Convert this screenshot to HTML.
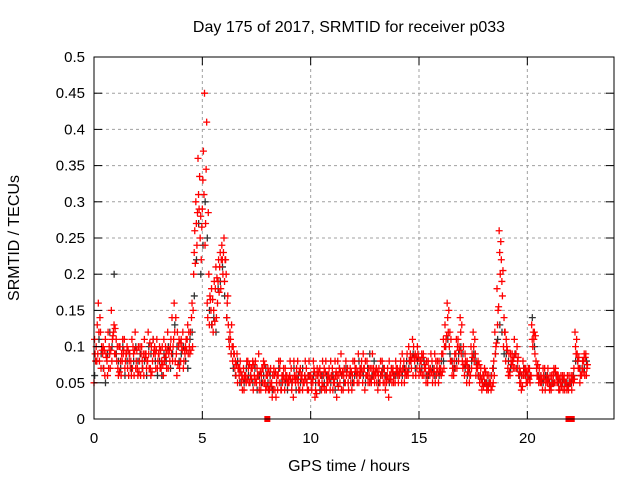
<!DOCTYPE html>
<html><head><meta charset="utf-8"><style>
body{margin:0;background:#fff;}
svg{display:block;font-family:"Liberation Sans",sans-serif;}
</style></head><body>
<svg id="chart" width="640" height="480">
<g id="grid"></g>
<g id="marks"></g>
<g id="axes"></g>
<text x="349" y="32" text-anchor="middle" font-size="16">Day 175 of 2017, SRMTID for receiver p033</text>
<text x="0" y="0" transform="translate(19,238) rotate(-90)" text-anchor="middle" font-size="16">SRMTID / TECUs</text>
<text x="349" y="471" text-anchor="middle" font-size="16">GPS time / hours</text>
</svg>
<script>
const xTicks=[0,5,10,15,20];
const yTicks=[0,0.05,0.1,0.15,0.2,0.25,0.3,0.35,0.4,0.45,0.5];
const yLabels=["0","0.05","0.1","0.15","0.2","0.25","0.3","0.35","0.4","0.45","0.5"];
const startHour=0, stepHour=0.1;
const seriesRed=[.05,.10,.16,.12,.09,.06,.08,.10,.15,.12,
.09,.07,.10,.08,.11,.09,.06,.08,.10,.12,
.07,.08,.10,.06,.09,.12,.07,.08,.10,.11,
.09,.07,.06,.10,.12,.08,.14,.16,.09,.10,
.08,.12,.09,.11,.10,.14,.20,.30,.36,.25,
.29,.45,.41,.20,.15,.12,.18,.16,.21,.24,
.25,.20,.13,.11,.08,.07,.09,.06,.05,.07,
.06,.08,.05,.07,.06,.05,.09,.04,.07,.05,
.06,.04,.05,.07,.03,.06,.08,.05,.04,.06,
.05,.07,.03,.05,.08,.04,.06,.05,.07,.04,
.06,.05,.03,.07,.05,.04,.06,.08,.05,.04,
.07,.05,.03,.06,.09,.04,.05,.07,.06,.04,
.05,.07,.09,.06,.05,.04,.08,.06,.05,.07,
.06,.04,.05,.08,.07,.05,.03,.06,.07,.05,
.07,.06,.05,.08,.07,.06,.09,.11,.08,.07,
.06,.08,.09,.07,.05,.06,.08,.07,.06,.05,
.07,.09,.13,.16,.10,.08,.06,.09,.11,.14,
.08,.06,.05,.07,.10,.12,.09,.07,.05,.04,
.06,.05,.04,.05,.07,.12,.18,.26,.22,.10,
.08,.07,.06,.09,.11,.07,.06,.05,.08,.06,
.05,.07,.13,.11,.08,.06,.05,.04,.07,.06,
.05,.04,.06,.07,.05,.04,.05,.06,.05,.04,
.05,.06,.12,.09,.07,.06,.08,.09];
const seriesRed2=[.09,.13,.08,.10,.07,.09,.12,.07,.11,.09,
.08,.10,.06,.09,.08,.07,.09,.11,.06,.08,
.10,.06,.07,.09,.08,.07,.10,.09,.07,.08,
.07,.10,.08,.07,.09,.11,.10,.08,.12,.07,
.10,.08,.11,.09,.12,.10,.26,.24,.29,.22,
.37,.27,.14,.17,.13,.19,.14,.22,.18,.20,
.22,.16,.10,.13,.09,.06,.07,.08,.04,.06,
.08,.05,.07,.04,.08,.06,.05,.07,.05,.06,
.04,.07,.06,.04,.06,.05,.04,.07,.06,.05,
.08,.05,.06,.07,.04,.06,.05,.08,.04,.06,
.04,.07,.06,.05,.06,.08,.04,.05,.07,.06,
.05,.06,.08,.05,.06,.07,.06,.04,.05,.08,
.07,.05,.06,.08,.07,.06,.05,.07,.09,.05,
.05,.07,.06,.05,.04,.07,.06,.05,.06,.07,
.05,.08,.07,.06,.09,.08,.07,.10,.06,.09,
.08,.06,.07,.08,.07,.09,.06,.05,.08,.07,
.09,.07,.11,.12,.08,.07,.09,.07,.10,.09,
.10,.08,.07,.06,.09,.08,.07,.06,.07,.06,
.05,.06,.05,.06,.08,.10,.15,.20,.17,.12,
.10,.09,.08,.07,.09,.08,.05,.06,.07,.05,
.07,.06,.10,.09,.06,.07,.05,.06,.05,.07,
.06,.05,.05,.06,.04,.06,.04,.05,.06,.05,
.04,.07,.09,.07,.06,.08,.06,.07];
const seriesRed3=[.11,.08,.12,.07,.10,.11,.06,.09,.08,.13,
.11,.06,.08,.11,.07,.10,.08,.06,.09,.07,
.06,.10,.08,.11,.07,.09,.06,.11,.09,.07,
.10,.08,.11,.09,.07,.10,.08,.12,.06,.11,
.11,.07,.10,.13,.09,.16,.23,.27,.31,.28,
.33,.24,.16,.13,.18,.15,.21,.19,.23,.22,
.19,.14,.11,.09,.10,.08,.05,.07,.06,.04,
.05,.07,.06,.08,.05,.07,.04,.06,.08,.04,
.07,.05,.03,.06,.05,.08,.04,.06,.07,.05,
.06,.04,.08,.06,.05,.07,.04,.06,.05,.08,
.05,.08,.04,.06,.07,.05,.07,.04,.06,.08,
.04,.08,.06,.07,.04,.06,.08,.05,.07,.06,
.08,.06,.05,.07,.09,.08,.06,.05,.07,.06,
.07,.06,.08,.06,.05,.06,.08,.07,.05,.08,
.06,.07,.09,.05,.06,.10,.08,.06,.09,.10,
.07,.09,.06,.05,.08,.07,.05,.09,.07,.08,
.06,.11,.10,.14,.12,.06,.08,.11,.08,.12,
.07,.09,.08,.05,.07,.10,.06,.08,.06,.05,
.07,.04,.06,.04,.05,.09,.13,.23,.19,.14,
.11,.06,.09,.08,.07,.10,.07,.04,.06,.07,
.06,.05,.11,.12,.07,.05,.06,.07,.04,.05,
.04,.06,.07,.05,.06,.05,.06,.04,.04,.06,
.06,.05,.10,.08,.05,.07,.09,.06];
const seriesBlack=[.06,.08,.11,.09,.07,.05,.09,.12,.10,.20,
.09,.08,.07,.10,.06,.08,.09,.07,.08,.10,
.08,.09,.07,.08,.06,.10,.09,.11,.08,.06,
.08,.06,.09,.08,.10,.07,.09,.13,.10,.08,
.09,.10,.08,.07,.11,.12,.17,.22,.27,.20,
.24,.30,.25,.15,.13,.14,.12,.18,.19,.21,
.17,.14,.11,.09,.07,.06,.08,.05,.06,.05,
.07,.06,.06,.05,.07,.04,.06,.05,.06,.07,
.05,.06,.04,.06,.05,.07,.05,.06,.05,.04,
.06,.05,.07,.04,.06,.05,.07,.06,.05,.06,
.05,.06,.05,.06,.04,.06,.05,.06,.06,.05,
.06,.04,.05,.07,.06,.05,.07,.05,.06,.05,
.06,.06,.08,.07,.06,.05,.07,.09,.06,.08,
.07,.05,.06,.07,.06,.06,.05,.07,.06,.06,
.06,.07,.06,.07,.08,.07,.08,.09,.07,.08,
.07,.07,.08,.06,.06,.07,.07,.06,.07,.06,
.08,.08,.10,.11,.09,.08,.07,.08,.09,.10,
.09,.07,.06,.07,.08,.09,.08,.06,.06,.05,
.05,.05,.05,.06,.07,.09,.11,.13,.12,.09,
.09,.08,.07,.08,.09,.07,.06,.06,.07,.06,
.06,.06,.14,.10,.07,.06,.06,.05,.06,.06,
.05,.05,.05,.06,.05,.05,.05,.05,.05,.05,
.05,.06,.08,.08,.07,.07,.07,.08];
const zeroHours=[8.0,21.9,22.05];

const L=94,R=614,T=57,B=419,xMin=0,xMax=24,yMin=0,yMax=0.5;
const xs=v=>L+(v-xMin)/(xMax-xMin)*(R-L);
const ys=v=>B-(v-yMin)/(yMax-yMin)*(B-T);
const NS="http://www.w3.org/2000/svg";
function mk(tag,attrs,parent){const e=document.createElementNS(NS,tag);for(const k in attrs)e.setAttribute(k,attrs[k]);parent.appendChild(e);return e;}
const grid=document.getElementById('grid'),axes=document.getElementById('axes'),marks=document.getElementById('marks');
yTicks.forEach((t,i)=>{
  const y=ys(t);
  if(i>0&&i<yTicks.length-1){const g=mk('line',{x1:L,x2:R,y1:y,y2:y,stroke:'#a0a0a0','stroke-dasharray':'3,3','stroke-width':1},grid);
  
  }
  mk('line',{x1:L,x2:L+8,y1:y,y2:y,stroke:'#000'},axes);
  mk('line',{x1:R,x2:R-8,y1:y,y2:y,stroke:'#000'},axes);
  const tx=mk('text',{x:L-9,y:y+5,'text-anchor':'end','font-size':15},axes);tx.textContent=yLabels[i];
  
  
});
xTicks.forEach(t=>{
  const x=xs(t);
  if(t>0){const g=mk('line',{x1:x,x2:x,y1:T,y2:B,stroke:'#a0a0a0','stroke-dasharray':'3,3','stroke-width':1},grid);
  
  }
  mk('line',{x1:x,x2:x,y1:B,y2:B-8,stroke:'#000'},axes);
  mk('line',{x1:x,x2:x,y1:T,y2:T+8,stroke:'#000'},axes);
  const tx=mk('text',{x:x,y:B+24,'text-anchor':'middle','font-size':15},axes);tx.textContent=String(t);
  
  
});
const fr=mk('rect',{x:L,y:T,width:R-L,height:B-T,fill:'none',stroke:'#000','stroke-width':1},axes);


function plus(h,v,color,name){
  const x=xs(h),y=ys(v);
  const p=mk('path',{d:`M${x-3.5} ${y}H${x+3.5}M${x} ${y-3.5}V${y+3.5}`,stroke:color,'stroke-width':1.3,fill:'none'},marks);
  
  
}
seriesBlack.forEach((v,i)=>plus(startHour+i*stepHour+0.03,v,'#333','black-point'));
seriesRed.forEach((v,i)=>plus(startHour+i*stepHour,v,'#ff0000','red-point'));
seriesRed2.forEach((v,i)=>plus(startHour+i*stepHour+0.05,v,'#ff0000','red-point'));
seriesRed3.forEach((v,i)=>plus(startHour+i*stepHour+0.025,v,'#ff0000','red-point'));
seriesRed.forEach((v,i)=>plus(startHour+i*stepHour+0.075,(v+seriesRed3[i])/2,'#ff0000','red-point'));
zeroHours.forEach(h=>{const r=mk('rect',{x:xs(h)-3,y:B-3,width:6,height:6,fill:'#ff0000'},marks);
  
  });
</script>
</body></html>
